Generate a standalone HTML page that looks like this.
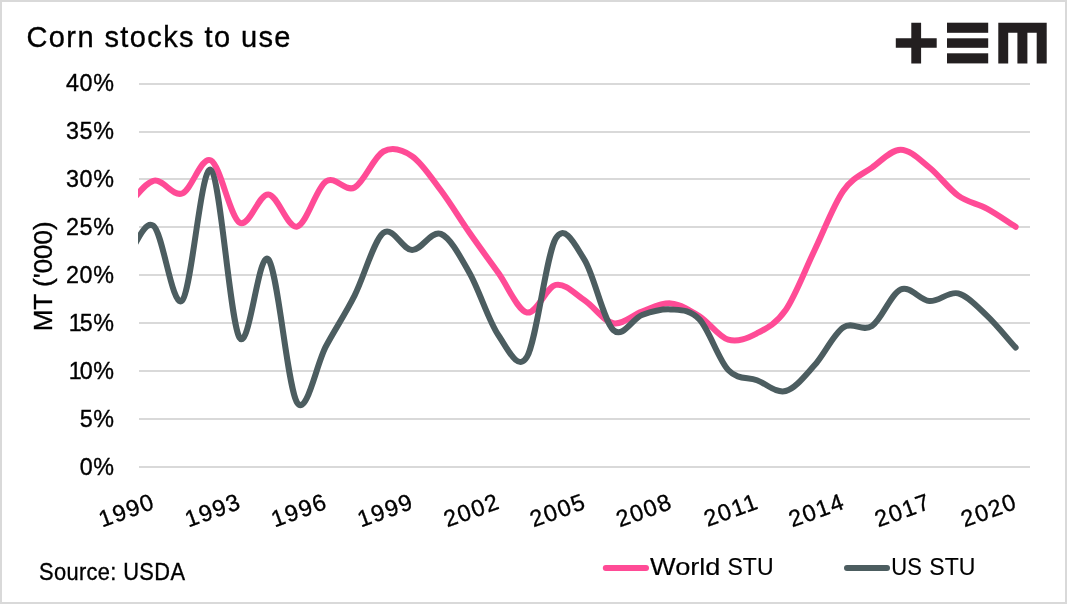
<!DOCTYPE html>
<html lang="en"><head><meta charset="utf-8"><title>Corn stocks to use</title>
<style>html,body{margin:0;padding:0;background:#fff}body{width:1067px;height:604px;overflow:hidden}svg{display:block}text{font-family:'Liberation Sans', sans-serif;fill:#000}</style>
</head><body>
<svg width="1067" height="604" viewBox="0 0 1067 604">
<rect x="0" y="0" width="1067" height="604" fill="#fff"/>
<rect x="1" y="1" width="1065" height="602" fill="none" stroke="#d9d9d9" stroke-width="2"/>
<defs><clipPath id="plot"><rect x="138.0" y="60" width="893.0" height="420"/></clipPath></defs>
<g fill="#d9d9d9">
<rect x="139" y="83" width="891" height="2"/>
<rect x="139" y="131" width="891" height="2"/>
<rect x="139" y="178" width="891" height="2"/>
<rect x="139" y="226" width="891" height="2"/>
<rect x="139" y="274" width="891" height="2"/>
<rect x="139" y="322" width="891" height="2"/>
<rect x="139" y="370" width="891" height="2"/>
<rect x="139" y="418" width="891" height="2"/>
<rect x="139" y="466" width="891" height="2"/>
</g>
<text transform="translate(114.50,474.60)" font-size="23.3" letter-spacing="0.6" text-anchor="end" stroke="#000" stroke-width="0.35">0%</text>
<text transform="translate(114.50,426.60)" font-size="23.3" letter-spacing="0.6" text-anchor="end" stroke="#000" stroke-width="0.35">5%</text>
<text transform="translate(114.50,378.60)" font-size="23.3" letter-spacing="0.6" text-anchor="end" stroke="#000" stroke-width="0.35">1<tspan dx="-2.7">0%</tspan></text>
<text transform="translate(114.50,330.60)" font-size="23.3" letter-spacing="0.6" text-anchor="end" stroke="#000" stroke-width="0.35">1<tspan dx="-2.7">5%</tspan></text>
<text transform="translate(114.50,282.60)" font-size="23.3" letter-spacing="0.6" text-anchor="end" stroke="#000" stroke-width="0.35">20%</text>
<text transform="translate(114.50,234.60)" font-size="23.3" letter-spacing="0.6" text-anchor="end" stroke="#000" stroke-width="0.35">25%</text>
<text transform="translate(114.50,186.60)" font-size="23.3" letter-spacing="0.6" text-anchor="end" stroke="#000" stroke-width="0.35">30%</text>
<text transform="translate(114.50,138.60)" font-size="23.3" letter-spacing="0.6" text-anchor="end" stroke="#000" stroke-width="0.35">35%</text>
<text transform="translate(114.50,90.60)" font-size="23.3" letter-spacing="0.6" text-anchor="end" stroke="#000" stroke-width="0.35">40%</text>
<g clip-path="url(#plot)" fill="none" stroke-width="6" stroke-linecap="round" stroke-linejoin="round">
<path stroke="#ff4b96" d="M124.63,209.00 C134.21,199.60 143.79,183.38 153.37,180.80 C162.95,178.22 172.53,196.90 182.11,193.50 C191.69,190.10 201.27,155.55 210.85,160.40 C220.44,165.25 230.02,216.93 239.60,222.60 C249.18,228.27 258.76,193.73 268.34,194.40 C277.92,195.07 287.50,228.75 297.08,226.60 C306.66,224.45 316.24,188.02 325.82,181.50 C335.40,174.98 344.98,192.50 354.56,187.50 C364.15,182.50 373.73,156.72 383.31,151.50 C392.89,146.28 402.47,149.73 412.05,156.20 C421.63,162.67 431.21,177.53 440.79,190.30 C450.37,203.07 459.95,219.05 469.53,232.80 C479.11,246.55 488.69,259.52 498.27,272.80 C507.85,286.08 517.44,310.48 527.02,312.50 C536.60,314.52 546.18,286.93 555.76,284.90 C565.34,282.87 574.92,293.92 584.50,300.30 C594.08,306.68 603.66,321.33 613.24,323.20 C622.82,325.07 632.40,314.80 641.98,311.50 C651.56,308.20 661.15,302.62 670.73,303.40 C680.31,304.18 689.89,310.15 699.47,316.20 C709.05,322.25 718.63,336.85 728.21,339.70 C737.79,342.55 747.37,338.25 756.95,333.30 C766.53,328.35 776.11,323.80 785.69,310.00 C795.27,296.20 804.85,270.33 814.44,250.50 C824.02,230.67 833.60,204.82 843.18,191.00 C852.76,177.18 862.34,174.48 871.92,167.60 C881.50,160.72 891.08,149.72 900.66,149.70 C910.24,149.68 919.82,159.85 929.40,167.50 C938.98,175.15 948.56,188.73 958.15,195.60 C967.73,202.47 977.31,203.50 986.89,208.70 C996.47,213.90 1006.05,220.77 1015.63,226.80"/>
<path stroke="#4c5d60" d="M124.63,261.50 C134.21,249.60 143.79,219.28 153.37,225.80 C162.95,232.32 172.53,309.92 182.11,300.60 C191.69,291.28 201.27,163.70 210.85,169.90 C220.44,176.10 230.02,322.90 239.60,337.80 C249.18,352.70 258.76,248.50 268.34,259.30 C277.92,270.10 287.50,388.07 297.08,402.60 C306.66,417.13 316.24,364.33 325.82,346.50 C335.40,328.67 344.98,314.53 354.56,295.60 C364.15,276.67 373.73,240.48 383.31,232.90 C392.89,225.32 402.47,249.93 412.05,250.10 C421.63,250.27 431.21,230.08 440.79,233.90 C450.37,237.72 459.95,256.15 469.53,273.00 C479.11,289.85 488.69,321.03 498.27,335.00 C507.85,348.97 517.79,372.30 527.02,356.80 C536.60,340.70 546.18,254.57 555.76,238.40 C564.89,222.99 574.98,244.62 584.50,259.80 C594.08,275.07 603.66,320.80 613.24,330.00 C622.82,339.20 632.40,318.43 641.98,315.00 C651.56,311.57 661.15,308.67 670.73,309.40 C680.31,310.13 689.89,309.30 699.47,319.40 C709.05,329.50 718.63,359.85 728.21,370.00 C737.79,380.15 747.37,376.80 756.95,380.30 C766.53,383.80 776.11,393.50 785.69,391.00 C795.27,388.50 804.85,375.90 814.44,365.30 C824.02,354.70 833.60,333.95 843.18,327.40 C852.76,320.85 862.34,332.33 871.92,326.00 C881.50,319.67 891.08,293.55 900.66,289.40 C910.24,285.25 919.82,300.43 929.40,301.10 C938.98,301.77 948.56,290.98 958.15,293.40 C967.73,295.82 977.31,306.57 986.89,315.60 C996.47,324.63 1006.05,336.93 1015.63,347.60"/>
</g>
<text transform="translate(156.67,507.80) rotate(-20)" font-size="23.3" letter-spacing="1.5" text-anchor="end" stroke="#000" stroke-width="0.35">1990</text>
<text transform="translate(242.90,507.80) rotate(-20)" font-size="23.3" letter-spacing="1.5" text-anchor="end" stroke="#000" stroke-width="0.35">1993</text>
<text transform="translate(329.12,507.80) rotate(-20)" font-size="23.3" letter-spacing="1.5" text-anchor="end" stroke="#000" stroke-width="0.35">1996</text>
<text transform="translate(415.35,507.80) rotate(-20)" font-size="23.3" letter-spacing="1.5" text-anchor="end" stroke="#000" stroke-width="0.35">1999</text>
<text transform="translate(501.57,507.80) rotate(-20)" font-size="23.3" letter-spacing="1.5" text-anchor="end" stroke="#000" stroke-width="0.35">2002</text>
<text transform="translate(587.80,507.80) rotate(-20)" font-size="23.3" letter-spacing="1.5" text-anchor="end" stroke="#000" stroke-width="0.35">2005</text>
<text transform="translate(674.03,507.80) rotate(-20)" font-size="23.3" letter-spacing="1.5" text-anchor="end" stroke="#000" stroke-width="0.35">2008</text>
<text transform="translate(760.25,507.80) rotate(-20)" font-size="23.3" letter-spacing="1.5" text-anchor="end" stroke="#000" stroke-width="0.35">2011</text>
<text transform="translate(846.48,507.80) rotate(-20)" font-size="23.3" letter-spacing="1.5" text-anchor="end" stroke="#000" stroke-width="0.35">2014</text>
<text transform="translate(932.70,507.80) rotate(-20)" font-size="23.3" letter-spacing="1.5" text-anchor="end" stroke="#000" stroke-width="0.35">2017</text>
<text transform="translate(1018.93,507.80) rotate(-20)" font-size="23.3" letter-spacing="1.5" text-anchor="end" stroke="#000" stroke-width="0.35">2020</text>
<text transform="translate(26.50,46.90)" font-size="29" letter-spacing="1.4" text-anchor="start" stroke="#000" stroke-width="0.35">Corn stocks to use</text>
<text transform="translate(52.00,276.30) rotate(-90)" font-size="26" letter-spacing="0" text-anchor="middle" stroke="#000" stroke-width="0.35">MT ('000)</text>
<text transform="translate(39.00,579.80) scale(0.925,1)" font-size="23.6" letter-spacing="0.4" text-anchor="start" stroke="#000" stroke-width="0.35">Source: USDA</text>
<g fill="none" stroke-width="6" stroke-linecap="round">
<line x1="605.8" y1="568" x2="646" y2="568" stroke="#ff4b96"/>
<line x1="847" y1="568" x2="887" y2="568" stroke="#4c5d60"/>
</g>
<text x="650.00" y="574.90" font-size="24.3" stroke="#000" stroke-width="0.15" style="white-space:pre"><tspan textLength="70.5" lengthAdjust="spacingAndGlyphs">World</tspan><tspan textLength="7.0" lengthAdjust="spacingAndGlyphs"> </tspan><tspan textLength="46.0" lengthAdjust="spacingAndGlyphs">STU</tspan></text>
<text x="891.30" y="574.90" font-size="24.3" stroke="#000" stroke-width="0.15" style="white-space:pre"><tspan textLength="30.5" lengthAdjust="spacingAndGlyphs">US</tspan><tspan textLength="7.5" lengthAdjust="spacingAndGlyphs"> </tspan><tspan textLength="46.0" lengthAdjust="spacingAndGlyphs">STU</tspan></text>
<g fill="#231f20">
<path d="M911.3,22.7H921.1V38.3H936.7V47.8H921.1V63.4H911.3V47.8H895.8V38.3H911.3Z"/>
<rect x="947" y="22.7" width="41.2" height="10.1"/>
<rect x="947" y="38.3" width="41.2" height="9.5"/>
<rect x="947" y="53.3" width="41.2" height="10.1"/>
<path d="M998.3,22.7H1046.7V63.4H1036.7V32.8H1027.4V63.4H1017.4V32.8H1008.2V63.4H998.3Z"/>
</g>
</svg>
</body></html>
